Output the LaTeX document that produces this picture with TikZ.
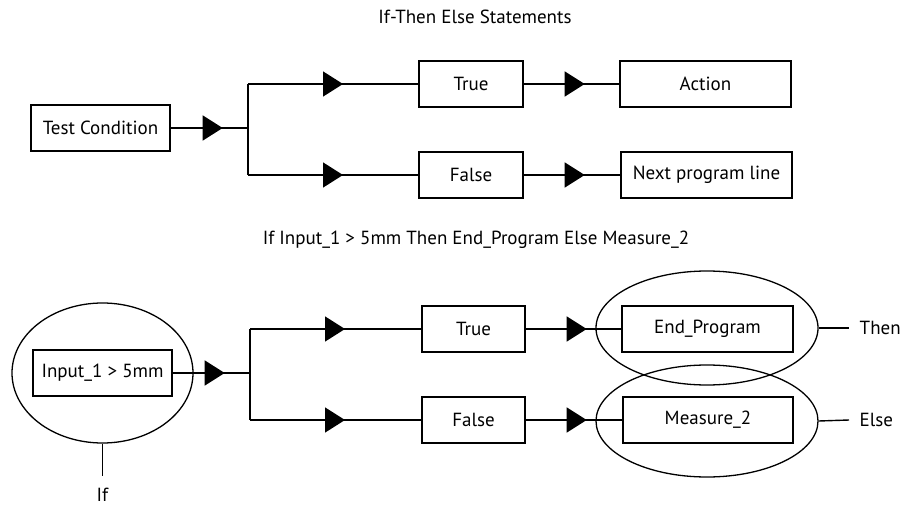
\documentclass[tikz,border=0pt]{standalone}
\usepackage{fontspec}
\setmainfont{PT Sans}
\usetikzlibrary{arrows.meta,shapes.geometric,decorations.markings}
\begin{document}
\begin{tikzpicture}[x=1pt,y=-1pt,
  font=\fontsize{19}{22}\selectfont,
  line width=1.4pt,
  box/.style={draw, rectangle, inner sep=0pt, minimum height=46pt},
  oval/.style={draw, ellipse, inner sep=0pt, line width=1.3pt},
  lbl/.style={inner sep=0pt},
  tipat/.style={postaction={decorate}, decoration={markings,
      mark=at position #1 with {\arrow{Triangle[length=20pt,width=25pt]}}}}
]
\useasboundingbox (0,0) rectangle (915,505);

% ---------- top ----------
\node[lbl] (title1) at (475,17) {If-Then Else Statements};
\node[box, minimum width=139pt] (tc) at (100.5,128) {Test Condition};
\coordinate (br1) at (248,128);
\coordinate (bu1) at (248,84);
\coordinate (bd1) at (248,175);
\node[box, minimum width=104pt] (t1) at (471,84) {True};
\node[box, minimum width=104pt] (f1) at (471,175) {False};
\node[box, minimum width=171pt] (act) at (705.5,84) {Action};
\node[box, minimum width=171pt] (next) at (706.5,175) {Next program line};

\draw[tipat=52pt] (tc.east) -- (br1);
\draw (bu1) -- (bd1);
\draw[tipat=95pt] (bu1) -- (t1.west);
\draw[tipat=95pt] (bd1) -- (f1.west);
\draw[tipat=61pt] (t1.east) -- (act.west);
\draw[tipat=61pt] (f1.east) -- (next.west);

% ---------- bottom ----------
\node[lbl] (title2) at (476,240) {If Input\_1 > 5mm Then End\_Program Else Measure\_2};
\node[oval, minimum width=181pt, minimum height=140pt] (e1) at (102.5,373) {};
\node[box, minimum width=139pt] (inp) at (102.5,373) {Input\_1 > 5mm};
\coordinate (br2) at (250,373);
\coordinate (bu2) at (250,329);
\coordinate (bd2) at (250,420);
\node[box, minimum width=103pt] (t2) at (473.5,329) {True};
\node[box, minimum width=103pt] (f2) at (473.5,420) {False};
\node[oval, minimum width=222pt, minimum height=114pt] (e2) at (707,328) {};
\node[oval, minimum width=222pt, minimum height=112pt] (e3) at (707,421) {};
\node[box, minimum width=171pt] (endp) at (707.5,329) {End\_Program};
\node[box, minimum width=170pt] (meas) at (708,420) {Measure\_2};

\draw[tipat=52pt] (inp.east) -- (br2);
\draw (bu2) -- (bd2);
\draw[tipat=95pt] (bu2) -- (t2.west);
\draw[tipat=95pt] (bd2) -- (f2.west);
\draw[tipat=61pt] (t2.east) -- (endp.west);
\draw[tipat=61pt] (f2.east) -- (meas.west);

\node[lbl, anchor=west] (thenl) at (859,328) {Then};
\node[lbl, anchor=west] (elsel) at (859,420) {Else};
\draw (e2.east) -- ([xshift=-10pt]thenl.west);
\draw (e3.east) -- ([xshift=-10pt]elsel.west);

\coordinate (ifend) at (102.5,476);
\node[lbl, anchor=north] (ifl) at (102.5,487) {If};
\draw (e1.south) -- (ifend);
\end{tikzpicture}
\end{document}
